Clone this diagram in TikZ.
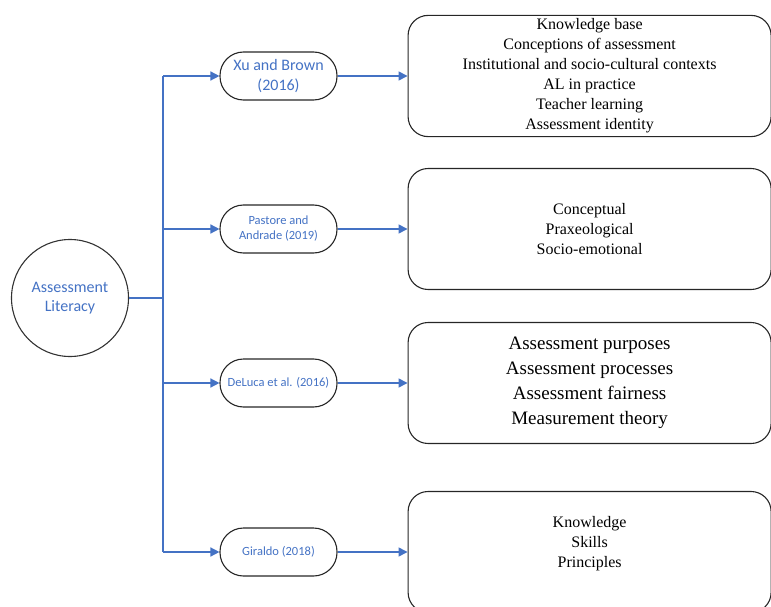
\documentclass[tikz,border=0pt]{standalone}
\usepackage{fontspec}
\setmainfont{Liberation Serif}
\newfontfamily\calibri{Carlito}
\usetikzlibrary{arrows.meta,positioning}
\definecolor{linkblue}{HTML}{4472C4}
\tikzstyle{topic}=[
	circle,
	draw=black!80,
	line width=1.1,
	minimum size=117,
	align=center,
	text=linkblue,
	font=\calibri\fontsize{16}{19.5}\selectfont]
\tikzstyle{author}=[
	rectangle,
	rounded corners=23.5,
	draw=black!85,
	line width=1.1,
	minimum width=117,
	minimum height=48,
	inner sep=1,
	align=center,
	text=linkblue]
\tikzstyle{dims}=[
	rectangle,
	rounded corners=20,
	draw=black!85,
	line width=1.1,
	minimum width=363,
	minimum height=121,
	align=center,
	font=\fontsize{16}{20}\selectfont]
\tikzstyle{link}=[
	draw=linkblue,
	line width=1.4,
	-{Triangle[length=9,width=9]}]

\begin{document}
\begin{tikzpicture}[x=1pt,y=-1pt]
	\useasboundingbox (0,0) rectangle (771,607);
	\node[topic]	(al)	at (70,298)	{Assessment\\Literacy};
	\begin{scope}[node distance=70]
		\node[author,font=\calibri\fontsize{16}{19.5}\selectfont]	(xu)	at (278.5,76)	{Xu and Brown\\(2016)};
		\node[author,font=\calibri\fontsize{12.5}{15}\selectfont]	(pas)	at (278.5,229)	{Pastore and\\Andrade (2019)};
		\node[author,font=\calibri\fontsize{12.5}{15}\selectfont]	(del)	at (278.5,383)	{DeLuca et al. (2016)};
		\node[author,font=\calibri\fontsize{12.5}{15}\selectfont]	(gir)	at (278.5,552)	{Giraldo (2018)};
		\node[dims]	(xudims)	[right=of xu]	{Knowledge base\\Conceptions of assessment\\Institutional and socio-cultural contexts\\AL in practice\\Teacher learning\\Assessment identity};
		\node[dims]	(pasdims)	[right=of pas]	{Conceptual\\Praxeological\\Socio-emotional};
		\node[dims,font=\fontsize{19}{25}\selectfont]	(deldims)	[right=of del]	{Assessment purposes\\Assessment processes\\Assessment fairness\\Measurement theory};
		\node[dims]	(girdims)	[right=of gir]	{Knowledge\\Skills\\Principles\\\ };
	\end{scope}
	\coordinate (trunk) at (163,297);
	\draw[linkblue,line width=1.4] (al.east) -- (al.east -| trunk);
	\draw[linkblue,line width=1.4] (trunk |- xu) -- (trunk |- gir);
	\foreach \p in {xu,pas,del,gir}
		\draw[link] (trunk |- \p) -- (\p.west);
	\foreach \p/\q in {xu/xudims,pas/pasdims,del/deldims,gir/girdims}
		\draw[link] (\p.east) -- (\q.west);
\end{tikzpicture}
\end{document}
